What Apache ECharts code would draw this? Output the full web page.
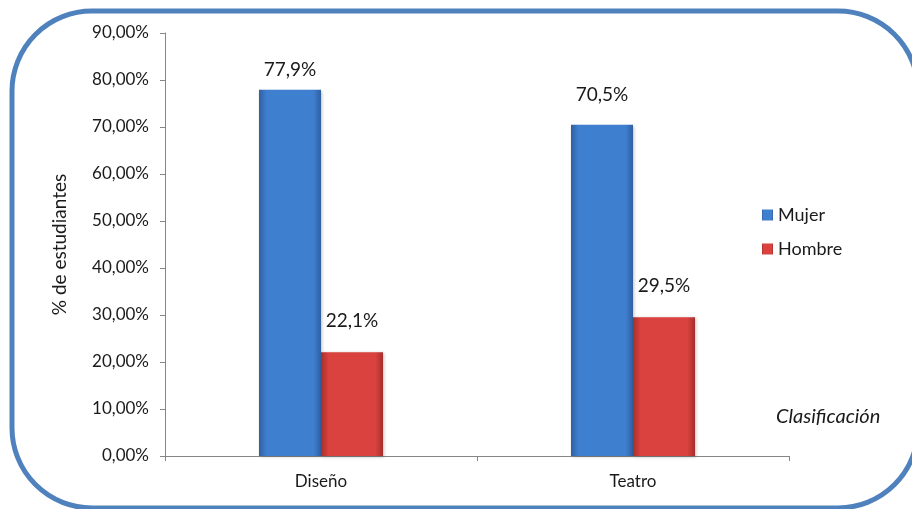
<!DOCTYPE html>
<html><head><meta charset="utf-8">
<script src="https://cdn.jsdelivr.net/npm/echarts@6/dist/echarts.min.js"></script>
<style>html,body{margin:0;padding:0;background:#fff}#c{width:912px;height:509px}</style>
</head><body><div id="c"></div>
<script>
const categories = ['Diseño', 'Teatro'];
const mujer = [77.9, 70.5];
const hombre = [22.1, 29.5];
const mujerLabelGap = [10, 20];
const hombreLabelGap = [22, 22];
const yTicks = [0, 10, 20, 30, 40, 50, 60, 70, 80, 90];

const FONT = 'Lato';
const chart = echarts.init(document.getElementById('c'));
const fmtPct = v => v.toFixed(1).replace('.', ',') + '%';
function grad(edge, mid) {
  return new echarts.graphic.LinearGradient(0, 0, 1, 0, [
    {offset: 0, color: edge}, {offset: 0.12, color: mid}, {offset: 0.88, color: mid}, {offset: 1, color: edge}
  ]);
}
function items(vals, gaps) {
  return vals.map((v, i) => ({value: v, label: {distance: gaps[i]}}));
}
chart.setOption({
  animation: false,
  textStyle: {fontFamily: FONT},
  graphic: [
    {type: 'rect', shape: {x: 12, y: 11, width: 906, height: 497, r: 80}, style: {fill: 'none', stroke: '#4f81bd', lineWidth: 5}, z: 0},
    {type: 'text', left: 776, top: 407, style: {text: 'Clasificación', font: 'italic 20px ' + FONT, fill: '#1a1a1a'}}
  ],
  grid: {left: 165, right: 123, top: 33, bottom: 53},
  legend: {
    orient: 'vertical', left: 757, top: 201, itemWidth: 11, itemHeight: 11, itemGap: 16,
    icon: 'rect', textStyle: {fontSize: 18, color: '#1a1a1a', fontFamily: FONT},
    data: ['Mujer', 'Hombre']
  },
  xAxis: {
    type: 'category', data: categories,
    axisLine: {lineStyle: {color: '#868686'}},
    axisTick: {show: true, length: 5, lineStyle: {color: '#868686'}},
    axisLabel: {color: '#1a1a1a', fontSize: 17, margin: 17}
  },
  yAxis: {
    type: 'value', min: 0, max: 90, interval: 10,
    name: '% de estudiantes', nameLocation: 'middle', nameGap: 96, nameRotate: 90,
    nameTextStyle: {fontSize: 19, color: '#1a1a1a'},
    axisLine: {show: true, lineStyle: {color: '#868686'}},
    axisTick: {show: true, length: 5, lineStyle: {color: '#868686'}},
    splitLine: {show: false},
    axisLabel: {color: '#1a1a1a', fontSize: 17, margin: 16,
      formatter: v => yTicks.includes(v) ? v.toFixed(2).replace('.', ',') + '%' : ''}
  },
  series: [
    {name: 'Mujer', type: 'bar', data: items(mujer, mujerLabelGap), barWidth: 62, barGap: '0%',
      itemStyle: {color: grad('#2f609f', '#3f7fd0'), shadowColor: 'rgba(0,0,0,0.25)', shadowBlur: 3, shadowOffsetX: 1, shadowOffsetY: 1},
      label: {show: true, position: 'top', fontSize: 19, color: '#1a1a1a', formatter: p => fmtPct(p.value)}},
    {name: 'Hombre', type: 'bar', data: items(hombre, hombreLabelGap), barWidth: 62, barGap: '0%',
      itemStyle: {color: grad('#a52e2b', '#d9423e'), shadowColor: 'rgba(0,0,0,0.25)', shadowBlur: 3, shadowOffsetX: 1, shadowOffsetY: 1},
      label: {show: true, position: 'top', fontSize: 19, color: '#1a1a1a', formatter: p => fmtPct(p.value)}}
  ]
});
</script></body></html>
